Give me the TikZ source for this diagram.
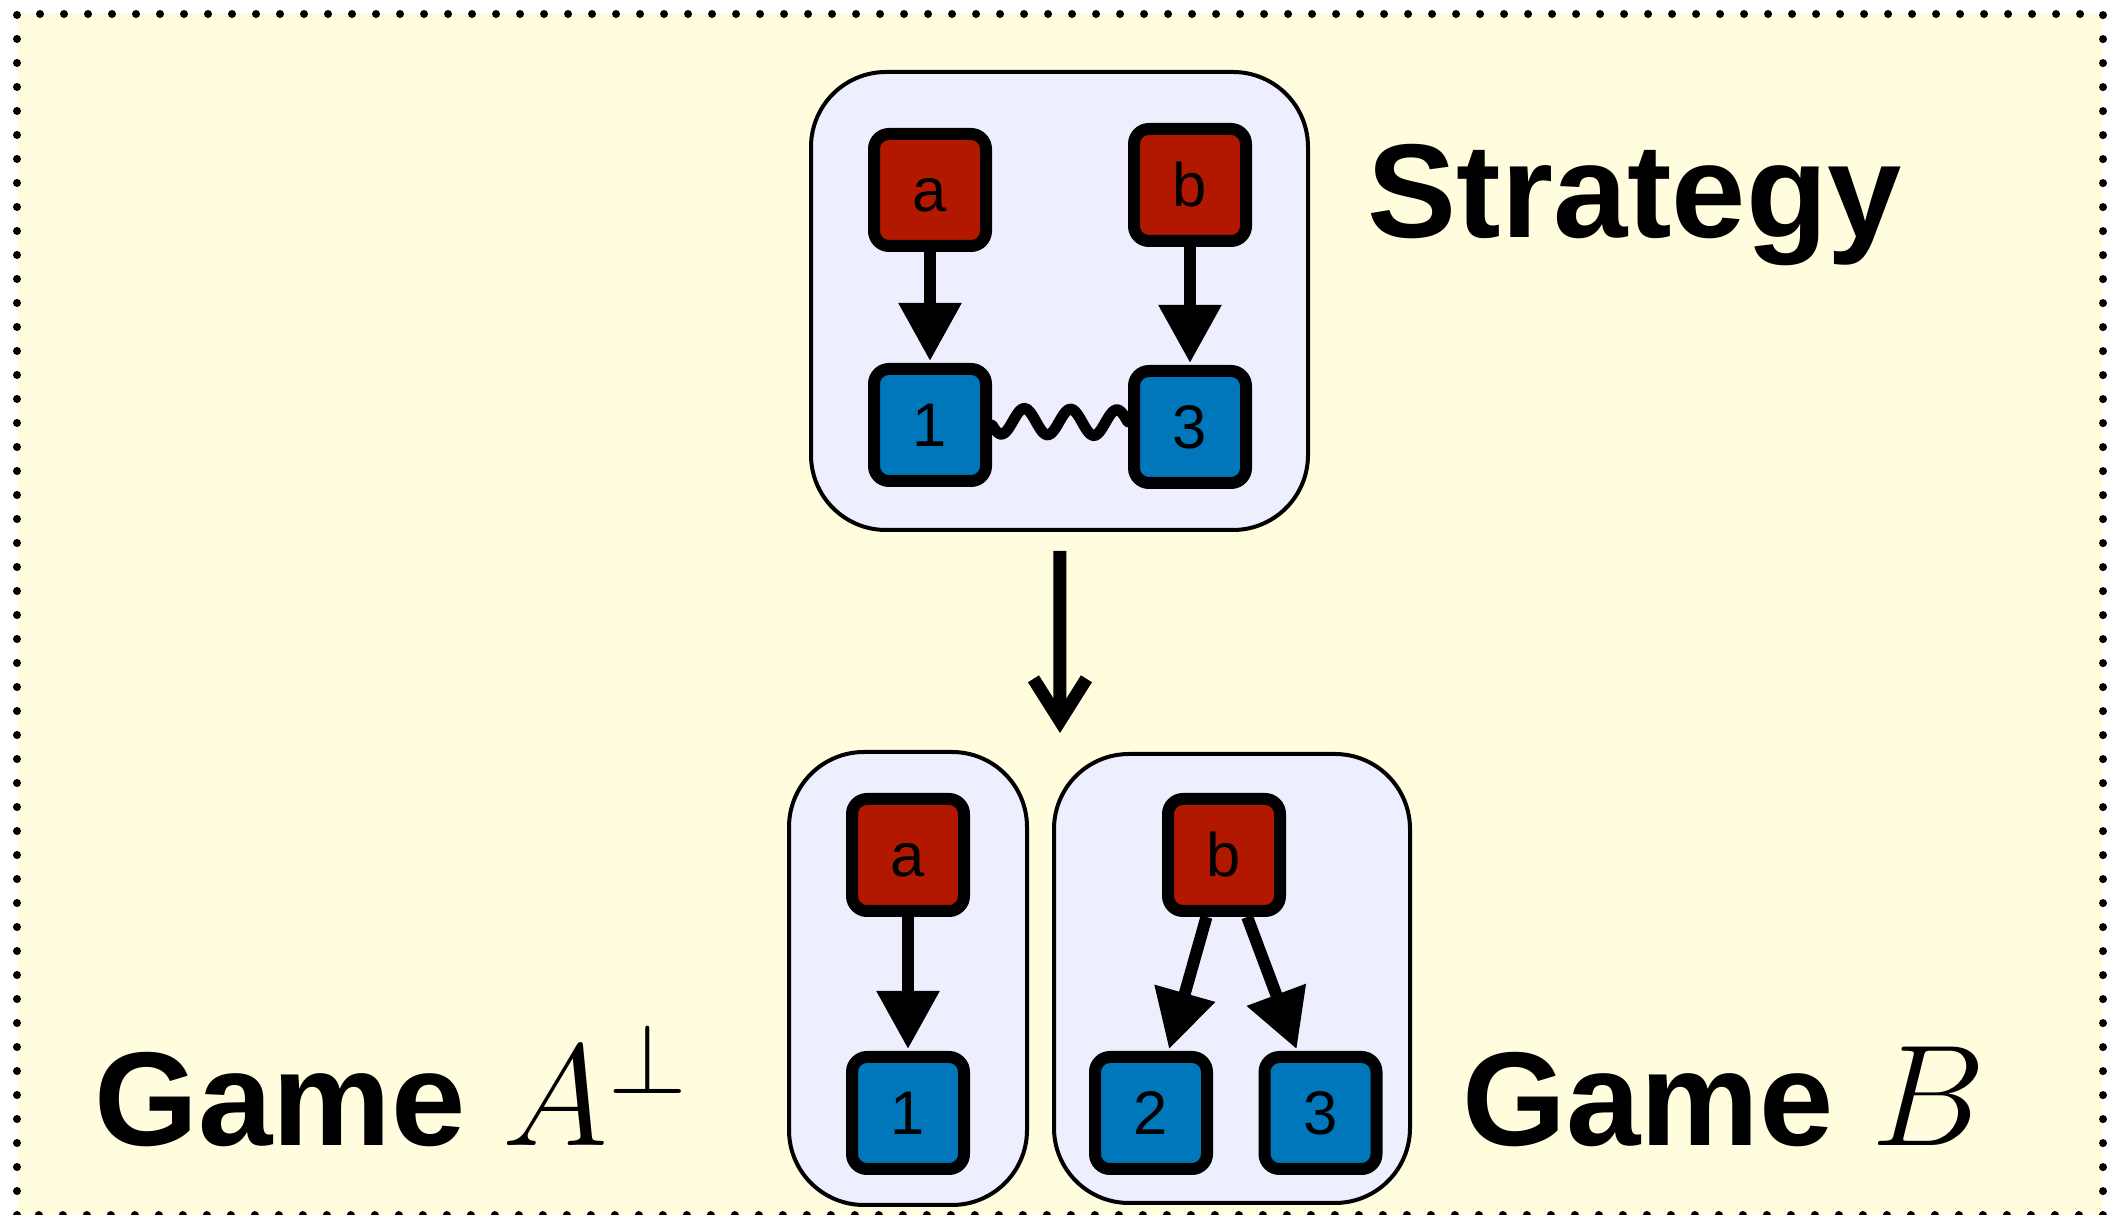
\RequirePackage{fix-cm}
\documentclass[tikz,border=0pt]{standalone}
\usepackage{fontspec}
\setsansfont{Liberation Sans}
\usetikzlibrary{arrows.meta,positioning,calc}
\definecolor{bgyellow}{RGB}{255,253,222}
\definecolor{boxlilac}{RGB}{238,239,254}
\definecolor{movered}{RGB}{178,24,0}
\definecolor{moveblue}{RGB}{0,118,187}
\begin{document}
\begin{tikzpicture}[auto,
  main node/.style={rectangle,rounded corners=0.15cm,draw,line width=0.12cm,minimum size=1.12cm,inner sep=0pt,text height=0.44cm,text depth=0cm,font=\sffamily\fontsize{17.5}{19}\selectfont},
  red node/.style={main node,fill=movered},
  blue node/.style={main node,fill=moveblue},
  game box/.style={draw,fill=boxlilac,line width=0.04cm,rounded corners=0.75cm,inner sep=0pt},
  move/.style={line width=0.12cm,-{Triangle[length=0.58cm,width=0.6cm]},shorten >=0.02cm},
  big move/.style={line width=0.13cm,-{Straight Barb[length=0.42cm,width=0.53cm]},shorten <=0.19cm},
  wiggle/.style={line width=0.11cm,line cap=round},
  label text/.style={anchor=base west,inner sep=0pt,font=\sffamily\bfseries\fontsize{38}{40}\selectfont}]
\useasboundingbox (0,0) rectangle (21.24,12.15);
\fill[bgyellow] (0.17,0) rectangle (21.03,12.01);
\draw[line width=0.08cm,line cap=round,dash pattern=on 0pt off 0.24cm] (0.17,0) -- (0.17,12.01) -- (21.03,12.01) -- (21.03,0) -- cycle;
% boxes
\node[game box,minimum width=4.97cm,minimum height=4.58cm] (strat) at (10.595,9.14) {};
\node[game box,minimum width=2.38cm,minimum height=4.53cm] (gameA) at (9.08,2.365) {};
\node[game box,minimum width=3.56cm,minimum height=4.49cm] (gameB) at (12.32,2.365) {};
\coordinate (mid) at (10.60,4.82);
\begin{scope}
\node[red node] (sa) at (9.30,10.25) {a};
\node[red node] (sb) at (11.90,10.30) {b};
\node[blue node] (s1) at (9.30,7.90) {1};
\node[blue node] (s3) at (11.90,7.88) {3};
\node[red node] (ga) at (9.08,3.60) {a};
\node[blue node] (g1) at (9.08,1.02) {1};
\node[red node] (gb) at (12.24,3.60) {b};
\node[blue node] (g2) at (11.51,1.02) {2};
\node[blue node] (g3) at (13.205,1.02) {3};
\end{scope}
\begin{scope}
\draw[move] (sa) -- (s1);
\draw[move] (sb) -- (s3);
\draw[wiggle] let \p1=(s1.east), \p2=(s3.west) in
  plot[variable=\t,domain=0:1,samples=80,smooth] ({\x1+(\x2-\x1)*\t},{\y1+(\y2-\y1)*\t+0.04cm-0.13cm*cos(360*(2.94*\t-0.2))});
\draw[move] (ga) -- (g1);
\draw[move] (gb) -- (g2);
\draw[move] (gb) -- (g3);
\draw[big move] (strat) -- (mid);
\end{scope}
\node[label text] (strattext) at (13.67,9.77) {Strategy};
\node[label text] (gameAtext) at (0.94,0.69) {Game {\fontsize{41}{43}\selectfont$A^{\perp}$}};
\node[label text] (gameBtext) at (14.62,0.69) {Game {\fontsize{41}{43}\selectfont$B$}};
\end{tikzpicture}
\end{document}
